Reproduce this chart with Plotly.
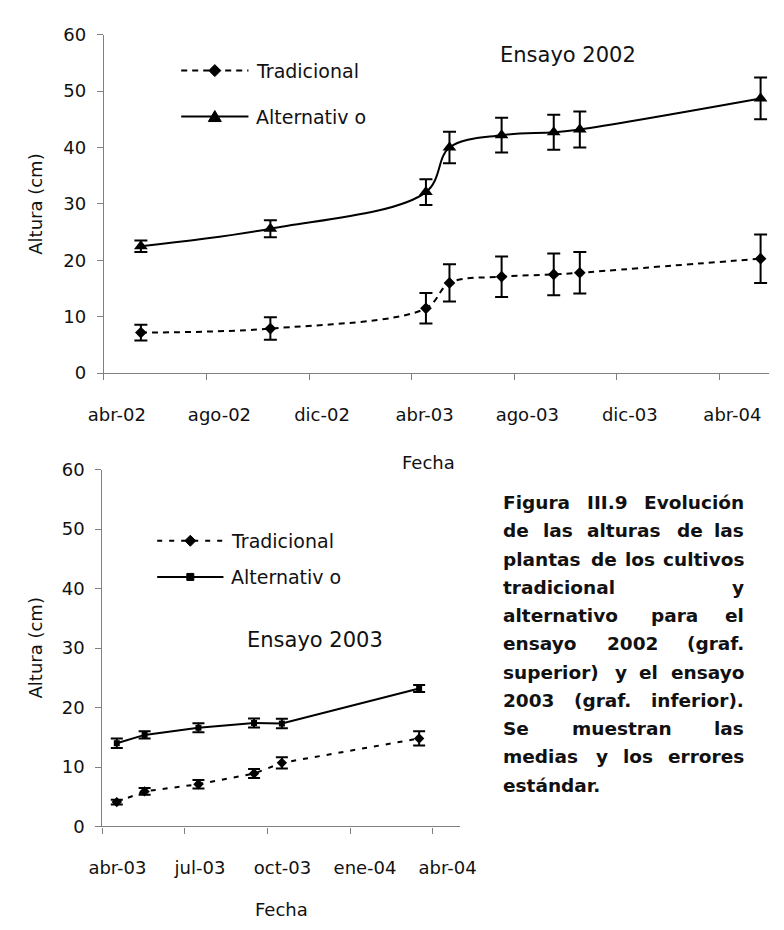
import plotly.graph_objects as go

W, H = 784, 930
FONT = "DejaVu Sans"

# ---- Ensayo 2002 ----
fechas_2002 = ["2002-05-15", "2002-10-16", "2003-04-19", "2003-05-17",
               "2003-07-18", "2003-09-18", "2003-10-19", "2004-05-21"]
trad_2002 = [7.2, 7.9, 11.5, 16.0, 17.1, 17.5, 17.8, 20.3]
trad_2002_err = [1.4, 2.0, 2.7, 3.3, 3.6, 3.7, 3.7, 4.3]
alt_2002 = [22.5, 25.6, 32.1, 40.0, 42.2, 42.7, 43.2, 48.7]
alt_2002_err = [1.0, 1.5, 2.3, 2.8, 3.1, 3.1, 3.2, 3.7]

# ---- Ensayo 2003 ----
fechas_2003 = ["2003-04-17", "2003-05-18", "2003-07-17", "2003-09-17",
               "2003-10-18", "2004-03-19"]
trad_2003 = [4.1, 5.9, 7.1, 8.9, 10.7, 14.8]
trad_2003_err = [0.4, 0.55, 0.7, 0.75, 0.95, 1.2]
alt_2003 = [14.0, 15.4, 16.6, 17.4, 17.3, 23.2]
alt_2003_err = [0.8, 0.6, 0.75, 0.75, 0.8, 0.6]

# ---- date axes ----
ticks_2002 = ["2002-04-01", "2002-08-01", "2002-12-01", "2003-04-02",
              "2003-08-02", "2003-12-02", "2004-04-02"]
ticktext_2002 = ["abr-02", "ago-02", "dic-02", "abr-03", "ago-03", "dic-03", "abr-04"]
range_2002 = ["2002-04-01", "2004-05-31"]

ticks_2003 = ["2003-04-01", "2003-07-02", "2003-10-02", "2004-01-02", "2004-04-03"]
ticktext_2003 = ["abr-03", "jul-03", "oct-03", "ene-04", "abr-04"]
range_2003 = ["2003-04-01", "2004-05-04"]

y_ticks = [0, 10, 20, 30, 40, 50, 60]

series_names = ["Tradicional", "Alternativ o"]

caption_lines = [
    "Figura III.9 Evolución",
    "de las alturas de las",
    "plantas de los cultivos",
    "tradicional y",
    "alternativo para el",
    "ensayo 2002 (graf.",
    "superior) y el ensayo",
    "2003 (graf. inferior).",
    "Se muestran las",
    "medias y los errores",
    "estándar.",
]

# approximate advance widths (em) of a bold sans face, used to justify the caption
BOLD_EM = {
    "a": .675, "á": .675, "c": .593, "d": .716, "e": .678, "f": .435, "g": .716,
    "i": .343, "l": .343, "m": 1.042, "n": .712, "o": .687, "ó": .687, "p": .716,
    "r": .493, "s": .595, "t": .478, "u": .712, "v": .652, "y": .652,
    "E": .683, "F": .683, "I": .372, "S": .721, "(": .456, ")": .456, ".": .381,
}
WIDTH_FUDGE = 1.08


def word_width(word, size):
    return WIDTH_FUDGE * size * sum(BOLD_EM.get(ch, .696) for ch in word)


def px(x):
    return x / W


def py(y):
    return 1 - y / H


fig = go.Figure()


def add_series(x, y, err, xa, ya, symbol, msize, dash, cap, shape):
    fig.add_trace(go.Scatter(
        x=x, y=y, xaxis=xa, yaxis=ya, mode="lines+markers",
        line=dict(color="black", width=2, dash=dash, shape=shape),
        marker=dict(symbol=symbol, size=msize, color="black"),
        error_y=dict(type="data", array=err, color="black", thickness=2, width=cap),
        showlegend=False, cliponaxis=False,
    ))


add_series(fechas_2002, trad_2002, trad_2002_err, "x", "y", "diamond", 9, "6px,5px", 6.5, "spline")
add_series(fechas_2002, alt_2002, alt_2002_err, "x", "y", "triangle-up", 12, "solid", 6.5, "spline")
add_series(fechas_2003, trad_2003, trad_2003_err, "x2", "y2", "diamond", 8, "5px,7px", 6, "linear")
add_series(fechas_2003, alt_2003, alt_2003_err, "x2", "y2", "square", 6, "solid", 6, "linear")

axis_common = dict(
    showline=True, linecolor="#808080", linewidth=1.3, ticks="outside",
    ticklen=6, tickcolor="#808080", tickwidth=1.3, showgrid=False, zeroline=False,
    tickfont=dict(family=FONT, size=18, color="#111111"),
)

fig.update_layout(
    width=W, height=H, margin=dict(l=0, r=0, t=0, b=0),
    paper_bgcolor="white", plot_bgcolor="white",
    font=dict(family=FONT, color="#111111"),
    xaxis=dict(domain=[px(91.5), 1.0], anchor="y", type="date", range=range_2002,
               tickmode="array", tickvals=ticks_2002, ticktext=ticktext_2002,
               ticklabelshift=13, ticklabelstandoff=19, **axis_common),
    yaxis=dict(domain=[py(370.5), py(24.3)], anchor="x", range=[0, 60],
               tickmode="array", tickvals=y_ticks, ticklabelstandoff=7, **axis_common),
    xaxis2=dict(domain=[px(90), px(462.7)], anchor="y2", type="date", range=range_2003,
                tickmode="array", tickvals=ticks_2003, ticktext=ticktext_2003,
                ticklabelshift=15, ticklabelstandoff=19, **axis_common),
    yaxis2=dict(domain=[py(834.3), py(469.3)], anchor="x2", range=[0, 60],
                tickmode="array", tickvals=y_ticks, ticklabelstandoff=7, **axis_common),
)

annotations = []


def text(x, y, s, size, anchor="center", bold=False, angle=0):
    annotations.append(dict(
        x=px(x), y=py(y), xref="paper", yref="paper", text=f"<b>{s}</b>" if bold else s,
        showarrow=False, xanchor=anchor, yanchor="middle", textangle=angle,
        font=dict(family=FONT, size=size, color="#111111"),
    ))


# axis titles and panel titles
text(20, 198, "Altura (cm)", 18, angle=-90)
text(20, 652, "Altura (cm)", 18, angle=-90)
text(430, 462, "Fecha", 18)
text(276, 919, "Fecha", 18)
text(575, 45, "Ensayo 2002", 21)
text(311, 644, "Ensayo 2003", 21)

# legends: line sample, marker glyph and label
shapes = []


def legend_entry(x0, x1, y, dash, glyph, label):
    shapes.append(dict(type="line", xref="paper", yref="paper",
                       x0=px(x0), x1=px(x1), y0=py(y), y1=py(y),
                       line=dict(color="black", width=2, dash=dash)))
    shapes.append(dict(type="path", xref="paper", yref="paper",
                       xsizemode="pixel", ysizemode="pixel",
                       xanchor=px((x0 + x1) / 2), yanchor=py(y),
                       path=glyph, fillcolor="black", line=dict(color="black", width=1)))
    text(x1 + 6, y, label, 19, anchor="left")


diamond = "M-6,0 L0,6 L6,0 L0,-6 Z"
diamond_s = "M-5.5,0 L0,5.5 L5.5,0 L0,-5.5 Z"
triangle = "M-6.5,-5 L6.5,-5 L0,6 Z"
square = "M-3.5,-3.5 L3.5,-3.5 L3.5,3.5 L-3.5,3.5 Z"

legend_entry(172, 242, 61, "6px,5px", diamond, series_names[0])
legend_entry(172, 242, 108, "solid", triangle, series_names[1])
legend_entry(147, 216, 542, "5px,7px", diamond_s, series_names[0])
legend_entry(147, 216, 579, "solid", square, series_names[1])

# figure caption, fully justified between two margins (last line left-aligned)
CAP_LEFT, CAP_RIGHT, CAP_TOP, CAP_STEP, CAP_SIZE = 505, 760, 503, 28.9, 18.5
for i, line in enumerate(caption_lines):
    y = CAP_TOP + i * CAP_STEP
    words = line.split()
    last = i == len(caption_lines) - 1
    if last or len(words) == 1:
        text(CAP_LEFT, y, line, CAP_SIZE, anchor="left", bold=True)
        continue
    widths = [word_width(w, CAP_SIZE) for w in words]
    gap = (CAP_RIGHT - CAP_LEFT - sum(widths)) / (len(words) - 1)
    x = CAP_LEFT
    for j, (w, wd) in enumerate(zip(words, widths)):
        if j == len(words) - 1:
            text(CAP_RIGHT, y, w, CAP_SIZE, anchor="right", bold=True)
        else:
            text(x, y, w, CAP_SIZE, anchor="left", bold=True)
        x += wd + gap

fig.update_layout(annotations=annotations, shapes=shapes)

fig.write_html("out.html")
